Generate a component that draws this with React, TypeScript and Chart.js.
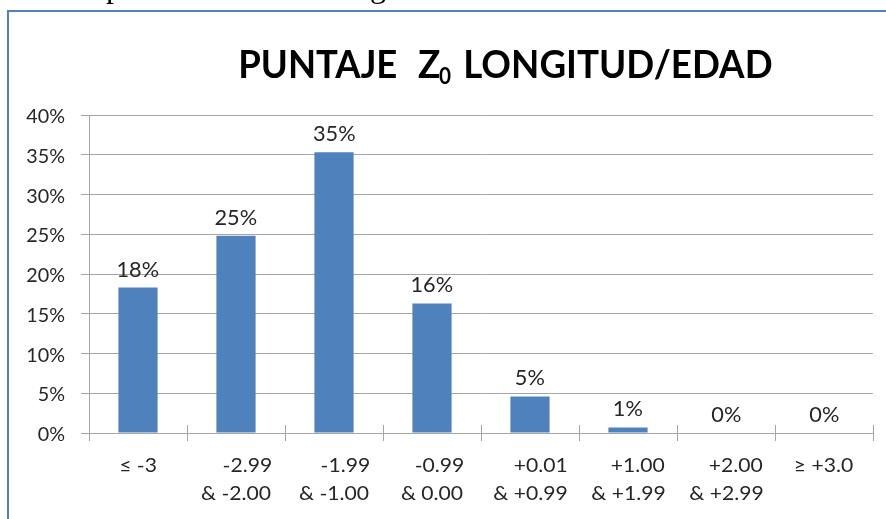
import React, { useEffect, useRef } from "react";
import { Chart, registerables } from "chart.js";

Chart.register(...registerables);

// ---- data ----
const categories: string[][] = [
  ["≤ -3"],
  ["-2.99", "& -2.00"],
  ["-1.99", "& -1.00"],
  ["-0.99", "& 0.00"],
  ["+0.01", "& +0.99"],
  ["+1.00", "& +1.99"],
  ["+2.00", "& +2.99"],
  ["≥ +3.0"],
];
const percentages: number[] = [18.3, 24.8, 35.3, 16.3, 4.6, 0.7, 0, 0];
const yMin = 0;
const yMax = 40;
const yStep = 5;
const titleMain = "PUNTAJE";
const titleVar = "Z";
const titleSub = "0";
const titleRest = "LONGITUD/EDAD";

// ---- style ----
const BAR = "#4F81BD";
const GRID = "#a6a6a6";
const TEXT = "#262626";
const BORDER = "#4F81BD";
const FONT = "Lato, 'Open Sans', 'DejaVu Sans', sans-serif";

type Align = "left" | "right" | "center";

function inkDraw(
  ctx: CanvasRenderingContext2D,
  text: string,
  pos: number,
  baseline: number,
  align: Align,
  sx: number
) {
  ctx.save();
  ctx.textAlign = "left";
  ctx.textBaseline = "alphabetic";
  const m = ctx.measureText(text);
  const abl = m.actualBoundingBoxLeft;
  const abr = m.actualBoundingBoxRight;
  let x: number;
  if (align === "left") x = pos + abl * sx;
  else if (align === "right") x = pos - abr * sx;
  else x = pos - ((abr - abl) / 2) * sx;
  ctx.translate(x, baseline);
  ctx.scale(sx, 1);
  ctx.fillText(text, 0, 0);
  ctx.restore();
}

function inkWidth(ctx: CanvasRenderingContext2D, text: string) {
  const m = ctx.measureText(text);
  return m.actualBoundingBoxLeft + m.actualBoundingBoxRight;
}

const textPlugin = {
  id: "textPlugin",
  beforeDraw(chart: any) {
    const ctx: CanvasRenderingContext2D = chart.ctx;
    ctx.save();
    ctx.fillStyle = "#ffffff";
    ctx.fillRect(0, 0, chart.width, chart.height);
    ctx.fillStyle = BORDER;
    ctx.fillRect(7, 10, chart.width, 2);
    ctx.fillRect(7, 10, 2, chart.height);
    // cut-off text line above the chart frame
    ctx.fillStyle = "#000";
    ctx.font = "32px 'Liberation Serif', serif";
    ctx.textBaseline = "alphabetic";
    ctx.fillText("p", 106, -3);
    ctx.fillText("g", 370, -3);
    ctx.restore();
  },
  afterDatasetsDraw(chart: any) {
    const ctx: CanvasRenderingContext2D = chart.ctx;
    const meta = chart.getDatasetMeta(0);
    ctx.save();
    ctx.fillStyle = TEXT;
    ctx.font = `22px ${FONT}`;
    const sx = 41 / inkWidth(ctx, "25%");
    meta.data.forEach((bar: any, i: number) => {
      const label = `${Math.round(percentages[i])}%`;
      inkDraw(ctx, label, bar.x, bar.y - 11, "center", sx);
    });
    ctx.restore();
  },
  afterDraw(chart: any) {
    const ctx: CanvasRenderingContext2D = chart.ctx;
    const xs = chart.scales.x;
    const ys = chart.scales.y;
    const area = chart.chartArea;
    ctx.save();

    // tick marks crossing above the x axis
    ctx.strokeStyle = GRID;
    ctx.lineWidth = 1;
    const bottom = Math.round(area.bottom);
    for (let i = 0; i <= categories.length; i++) {
      const px = Math.round(xs.getPixelForValue(i - 0.5)) + 0.5;
      ctx.beginPath();
      ctx.moveTo(px, bottom - 8);
      ctx.lineTo(px, bottom);
      ctx.stroke();
    }

    // y tick labels
    ctx.fillStyle = TEXT;
    ctx.font = `19px ${FONT}`;
    const sy = 38.5 / inkWidth(ctx, "40%");
    for (let v = yMin; v <= yMax; v += yStep) {
      const py = ys.getPixelForValue(v);
      inkDraw(ctx, `${v}%`, 64.8, py + 8, "right", sy);
    }

    // x category labels (lines right-aligned, block centred)
    ctx.font = `19px ${FONT}`;
    const sxl = 70 / inkWidth(ctx, "& -2.00");
    categories.forEach((lines, i) => {
      const cx = xs.getPixelForValue(i);
      const widest = Math.max(...lines.map((l) => inkWidth(ctx, l) * sxl));
      const right = cx + widest / 2;
      lines.forEach((l, j) => {
        inkDraw(ctx, l, right, 472 + j * 28, "right", sxl);
      });
    });

    // title
    ctx.fillStyle = "#000000";
    ctx.font = `bold 39px ${FONT}`;
    const st1 = 155 / inkWidth(ctx, titleMain);
    const st2 = 306 / inkWidth(ctx, titleRest);
    inkDraw(ctx, titleMain, 241, 78, "left", st1);
    inkDraw(ctx, titleVar, 418, 78, "left", st2);
    inkDraw(ctx, titleRest, 466, 78, "left", st2);
    ctx.font = `bold 22px ${FONT}`;
    inkDraw(ctx, titleSub, 439, 84, "left", st2);

    ctx.restore();
  },
};

export default function App() {
  const canvasRef = useRef<HTMLCanvasElement | null>(null);

  useEffect(() => {
    if (!canvasRef.current) return;
    const chart = new Chart(canvasRef.current, {
      type: "bar",
      data: {
        labels: categories,
        datasets: [
          {
            data: percentages,
            backgroundColor: BAR,
            borderWidth: 0,
            barPercentage: 0.4,
            categoryPercentage: 1.0,
          },
        ],
      },
      options: {
        animation: false,
        responsive: false,
        maintainAspectRatio: false,
        devicePixelRatio: 1,
        layout: { padding: { top: 115, right: 13, left: 0, bottom: 0 } },
        plugins: {
          legend: { display: false },
          title: { display: false },
          tooltip: { enabled: false },
        },
        scales: {
          x: {
            type: "category",
            offset: true,
            grid: {
              offset: true,
              drawOnChartArea: false,
              drawTicks: true,
              tickLength: 8,
              color: GRID,
              lineWidth: 1,
            },
            border: { display: true, color: GRID, width: 1 },
            ticks: { display: false },
            afterFit: (s: any) => {
              s.height = 86;
            },
          },
          y: {
            min: yMin,
            max: yMax,
            ticks: { stepSize: yStep, display: false },
            grid: {
              color: GRID,
              lineWidth: 1,
              drawTicks: true,
              tickLength: 8,
            },
            border: { display: true, color: GRID, width: 1 },
            afterFit: (s: any) => {
              s.width = 89;
            },
          },
        },
      },
      plugins: [textPlugin],
    });
    return () => chart.destroy();
  }, []);

  return (
    <div
      style={{
        position: "absolute",
        left: 0,
        top: 0,
        width: 886,
        height: 519,
        background: "#fff",
        overflow: "hidden",
      }}
    >
      <canvas
        ref={canvasRef}
        width={886}
        height={519}
        style={{ display: "block", width: 886, height: 519 }}
      />
    </div>
  );
}
